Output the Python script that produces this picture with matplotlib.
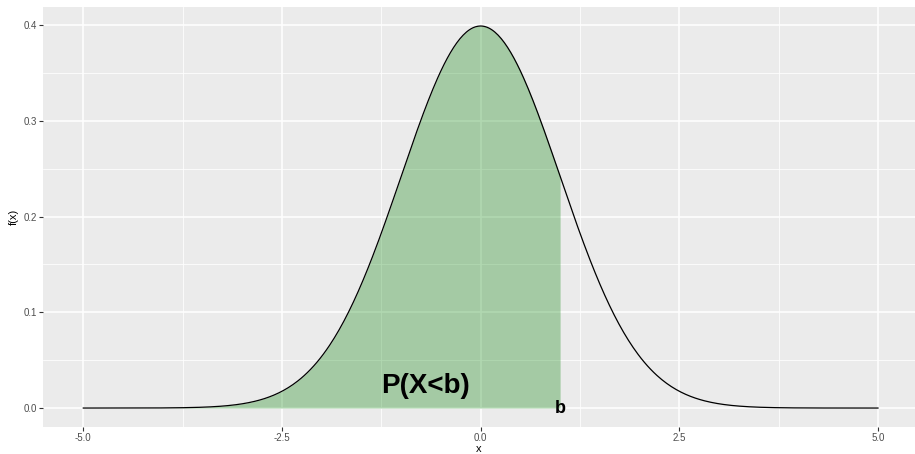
import numpy as np
import matplotlib.pyplot as plt

# density of the standard normal, evaluated on a grid
x = np.linspace(-5, 5, 501)
fx = np.exp(-x ** 2 / 2) / np.sqrt(2 * np.pi)

b = 1.0
x_ticks = [-5.0, -2.5, 0.0, 2.5, 5.0]
y_ticks = [0.0, 0.1, 0.2, 0.3, 0.4]

plt.rcParams['font.family'] = ['Liberation Sans', 'DejaVu Sans']

fig = plt.figure(figsize=(9.15, 4.54), dpi=100)
# panel runs to the right edge of the image (cropped like the original)
ax = fig.add_axes([42.7 / 915, 27 / 454, 872.3 / 915, 420 / 454])
ax.set_facecolor('#ebebeb')
for s in ax.spines.values():
    s.set_visible(False)

ax.set_xlim(-5.511, 5.466)
ax.set_ylim(-0.0198, 0.4188)
ax.set_xticks(x_ticks)
ax.set_xticklabels(['%.1f' % t for t in x_ticks])
ax.set_yticks(y_ticks)
ax.set_yticklabels(['%.1f' % t for t in y_ticks])
ax.set_xticks([-3.75, -1.25, 1.25, 3.75], minor=True)
ax.set_yticks([0.05, 0.15, 0.25, 0.35], minor=True)
ax.grid(True, which='major', color='white', linewidth=1.1)
ax.grid(True, which='minor', color='white', linewidth=0.55)
ax.set_axisbelow(True)
ax.tick_params(which='major', length=2.75, color='#333333', labelsize=7,
               labelcolor='#4d4d4d')
ax.tick_params(axis='x', pad=1.5)
ax.tick_params(axis='y', pad=1.5)
ax.tick_params(which='minor', length=0)

mask = x <= b
ax.fill_between(x[mask], 0, fx[mask], color='#008000', alpha=0.3,
                linewidth=0)
ax.plot(x, fx, color='black', linewidth=0.9)

ax.text(-0.7, 0.023, 'P(X<b)', fontsize=20, fontweight='bold',
        ha='center', va='center')
ax.text(b, 0, 'b', fontsize=13, fontweight='bold', ha='center',
        va='center')

ax.set_xlabel('x', fontsize=8, labelpad=1)
ax.set_ylabel('f(x)', fontsize=8, labelpad=3)

fig.savefig('out.png', dpi=100)
